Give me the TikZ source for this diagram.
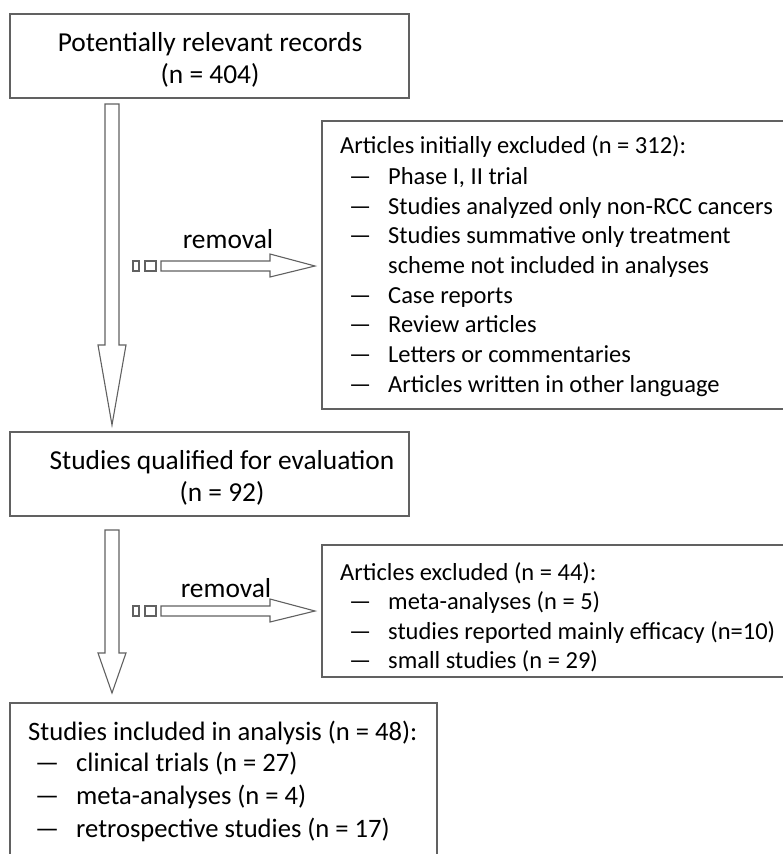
\documentclass[tikz,border=0pt]{standalone}
\usepackage{fontspec}
\setmainfont{Carlito}
\tikzset{
  box/.style={draw=black!62, line width=1.2pt, fill=white, inner sep=0pt},
  blockarrow/.style={draw=black!62, line width=1.1pt, fill=white, line join=miter},
  txt/.style={inner sep=0pt, font=\fontsize{24.5}{29}\selectfont, text=black},
  bigtxt/.style={inner sep=0pt, font=\fontsize{27.4}{32}\selectfont, text=black},
  midtxt/.style={inner sep=0pt, font=\fontsize{26.6}{32}\selectfont, text=black},
}
\begin{document}
\begin{tikzpicture}[x=1pt,y=-1pt]
\useasboundingbox (0,0) rectangle (783,854);
\clip (0,0) rectangle (783,854);
\fill[white] (0,0) rectangle (783,854);
% boxes
\node[box, minimum width=399pt, minimum height=84pt] (b1) at (209.5,56) {};
\node[box, minimum width=480pt, minimum height=288pt] (b2) at (562,265) {};
\node[box, minimum width=399pt, minimum height=84pt] (b3) at (209.5,474) {};
\node[box, minimum width=480pt, minimum height=132pt] (b4) at (562,611) {};
\node[box, minimum width=427pt, minimum height=170pt] (b5) at (223.5,788) {};
% box 1 text
\node[bigtxt, anchor=base] (t1a) at (210,51) {Potentially relevant records};
\node[bigtxt, anchor=base] (t1b) at (210,83) {(n = 404)};
% box 3 text
\node[bigtxt, anchor=base] (t3a) at (222,469) {Studies qualified for evaluation};
\node[bigtxt, anchor=base] (t3b) at (222,501) {(n = 92)};
% box 2 text
\node[txt, anchor=base west] (t2h) at (340,153) {Articles initially excluded (n = 312):};
\foreach \y/\t [count=\i] in {184/{Phase I, II trial},214/{Studies analyzed only non-RCC cancers},243.5/{Studies summative only treatment},303/{Case reports},332.5/{Review articles},362/{Letters or commentaries},392/{Articles written in other language}}{
  \node[txt, anchor=base west] (d2\i) at (349,\y) {—};
  \node[txt, anchor=base west] (i2\i) at (388,\y) {\t};
}
\node[txt, anchor=base west] (i2x) at (388,273) {scheme not included in analyses};
% box 4 text
\node[txt, anchor=base west] (t4h) at (340,580) {Articles excluded (n = 44):};
\foreach \y/\t [count=\i] in {609/{meta-analyses (n = 5)},639/{studies reported mainly efficacy (n=10)},668/{small studies (n = 29)}}{
  \node[txt, anchor=base west] (d4\i) at (349,\y) {—};
  \node[txt, anchor=base west] (i4\i) at (388,\y) {\t};
}
% box 5 text
\node[midtxt, anchor=base west] (t5h) at (28,740) {Studies included in analysis (n = 48):};
\foreach \y/\t [count=\i] in {771/{clinical trials (n = 27)},804/{meta-analyses (n = 4)},837/{retrospective studies (n = 17)}}{
  \node[midtxt, anchor=base west] (d5\i) at (35,\y) {—};
  \node[midtxt, anchor=base west] (i5\i) at (76,\y) {\t};
}
% vertical block arrows
\draw[blockarrow] (105,104) -- (119,104) -- (119,345) -- (126,345) -- (112,425) -- (98,345) -- (105,345) -- cycle;
\draw[blockarrow] (105,530) -- (119,530) -- (119,653) -- (126,653) -- (112,693) -- (98,653) -- (105,653) -- cycle;
% horizontal block arrows
\foreach \yc/\n in {266/r1,611/r2}{
  \draw[blockarrow] (133,\yc-5) rectangle (139,\yc+5);
  \draw[blockarrow] (145,\yc-5) rectangle (156,\yc+5);
  \draw[blockarrow] (161,\yc-5) -- (270,\yc-5) -- (270,\yc-12) -- (315,\yc) -- (270,\yc+11) -- (270,\yc+5) -- (161,\yc+5) -- cycle;
}
\node[bigtxt, anchor=base] (rl1) at (228,248) {removal};
\node[bigtxt, anchor=base] (rl2) at (226,597) {removal};
\end{tikzpicture}
\end{document}
